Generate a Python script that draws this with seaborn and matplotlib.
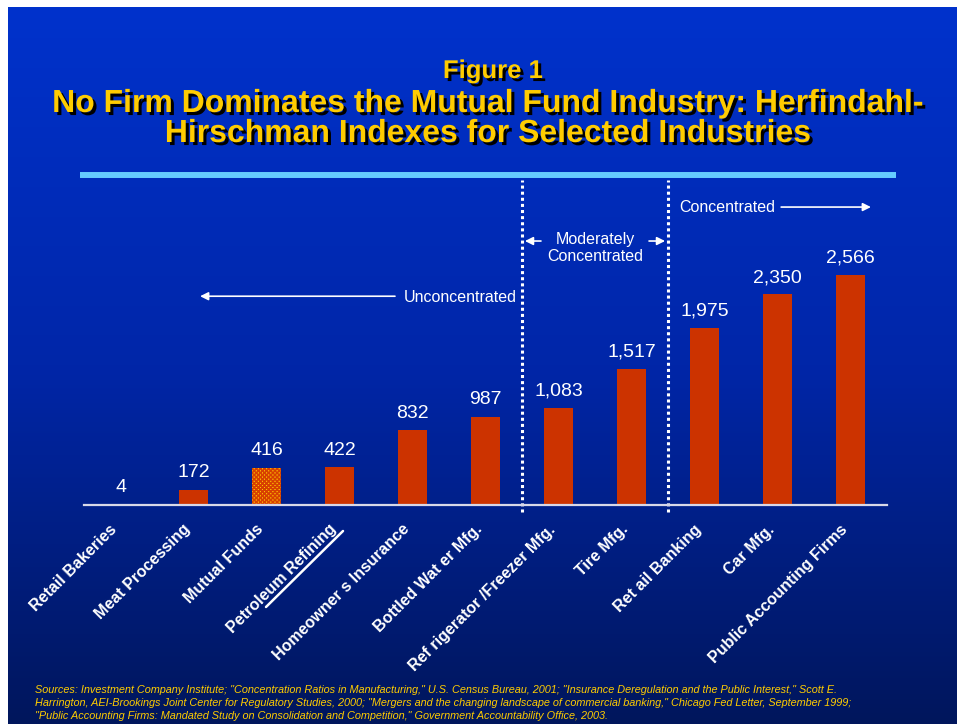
#!/usr/bin/env python3
"""
Figure 1: Herfindahl-Hirschman indexes for selected industries.
"""

import numpy as np
import matplotlib
matplotlib.use("Agg")
import matplotlib.pyplot as plt
import matplotlib.patheffects as pe
import matplotlib.transforms as mtransforms
from matplotlib.colors import LinearSegmentedColormap
from matplotlib.lines import Line2D
import seaborn as sns

industries = ["Retail Bakeries", "Meat Processing", "Mutual Funds", "Petroleum Refining",
              "Homeowners Insurance", "Bottled Water Mfg.", "Refrigerator/Freezer Mfg.",
              "Tire Mfg.", "Retail Banking", "Car Mfg.", "Public Accounting Firms"]
tick_labels = ["Retail Bakeries", "Meat Processing", "Mutual Funds", "Petroleum Refining",
               "Homeowner s Insurance", "Bottled Wat er Mfg.", "Ref rigerator /Freezer Mfg.",
               "Tire Mfg.", "Ret ail Banking", "Car Mfg.", "Public Accounting Firms"]
hhi = [4, 172, 416, 422, 832, 987, 1083, 1517, 1975, 2350, 2566]

BAR = "#CC3300"
YELLOW = "#FFCC00"

sns.set_style("white")
plt.rcParams["font.family"] = ["Liberation Sans", "DejaVu Sans"]
plt.rcParams["hatch.linewidth"] = 1.2

fig = plt.figure(figsize=(9.57, 7.24), dpi=100)
fig.patch.set_facecolor("white")

# gradient slide background
bg = fig.add_axes([8 / 957, 0, 949 / 957, 717 / 724], zorder=-5)
cmap = LinearSegmentedColormap.from_list("slide", ["#0032CC", "#0026A8", "#00165C"])
bg.imshow(np.linspace(0, 1, 256).reshape(-1, 1), aspect="auto", cmap=cmap,
          extent=[0, 1, 0, 1])
bg.set_axis_off()

# titles with drop shadow
shadow = [pe.withSimplePatchShadow(offset=(2.2, -2.2), shadow_rgbFace="black", alpha=1)]
fig.text(493 / 957, 1 - 71 / 724, "Figure 1", color=YELLOW, fontsize=18.5, fontweight="bold",
         ha="center", va="center", path_effects=shadow)
fig.text(488 / 957, 1 - 119 / 724,
         "No Firm Dominates the Mutual Fund Industry: Herfindahl-\n"
         "Hirschman Indexes for Selected Industries",
         color=YELLOW, fontsize=23, fontweight="bold", ha="center", va="center",
         linespacing=1.0, path_effects=shadow)

fig.add_artist(Line2D([80 / 957, 896 / 957], [1 - 175 / 724] * 2,
                      color="#66CCFF", lw=4.3, solid_capstyle="butt"))

# main chart
ax = fig.add_axes([84 / 957, 1 - 505 / 724, 803 / 957, 325 / 724])
ax.patch.set_alpha(0)
colors = {name: BAR for name in industries}
sns.barplot(x=industries, y=hhi, hue=industries, palette=colors, width=0.41,
            saturation=1, legend=False, linewidth=0, ax=ax)

# Mutual Funds bar gets the hatched orange fill
mf = ax.patches[industries.index("Mutual Funds")]
mf.set_facecolor(YELLOW)
mf.set_edgecolor("#D84000")
mf.set_linewidth(0)
mf.set_hatch("xxxxxxxx")

for cont in ax.containers:
    ax.bar_label(cont, labels=[f"{v:,.0f}" for v in cont.datavalues],
                 padding=6, color="white", fontsize=14)

ax.set_xlim(-0.5, len(industries) - 0.5)
ax.set_ylim(0, 3627)
ax.set_yticks([])
for s in ["top", "left", "right"]:
    ax.spines[s].set_visible(False)
ax.spines["bottom"].set_color("#D8D8E8")
ax.spines["bottom"].set_linewidth(1.6)

ax.set_xticks(np.arange(-0.5, len(industries)), minor=True)
ax.set_xticks(np.arange(len(industries)))
ax.set_xticklabels(tick_labels, rotation=45, ha="right", va="top",
                   rotation_mode="anchor", color="white", fontsize=11.5,
                   fontweight="bold")
ax.tick_params(axis="x", which="major", length=0, pad=12)
ax.tick_params(axis="x", which="minor", length=4, width=1.3, color="#D8D8E8",
               direction="out")
shift = mtransforms.ScaledTranslation(-11 / 100, 0, fig.dpi_scale_trans)
for lab in ax.get_xticklabels():
    lab.set_transform(lab.get_transform() + shift)
ax.set_xlabel("")
ax.set_ylabel("")

# concentration zone boundaries
for xb in [5.5, 7.5]:
    ax.axvline(xb, ymin=-0.022, ymax=1, color="white", lw=2.2,
               ls=(0, (1, 1)), clip_on=False)

arrow = dict(arrowstyle="-|>", color="white", lw=1.2, mutation_scale=12,
             shrinkA=0, shrinkB=0)
ax.annotate("", xy=(1.09, 2330), xytext=(3.76, 2330), arrowprops=arrow)
ax.text(3.88, 2321, "Unconcentrated", color="white", fontsize=11.5,
        ha="left", va="center")
ax.text(6.5, 2868, "Moderately\nConcentrated", color="white", fontsize=11.5,
        ha="center", va="center", linespacing=1.1)
ax.annotate("", xy=(5.54, 2946), xytext=(5.76, 2946), arrowprops=arrow)
ax.annotate("", xy=(7.46, 2946), xytext=(7.24, 2946), arrowprops=arrow)
ax.text(7.66, 3315, "Concentrated", color="white", fontsize=11.5,
        ha="left", va="center")
ax.annotate("", xy=(10.28, 3325), xytext=(9.05, 3325), arrowprops=arrow)

# underline beneath the Petroleum Refining label
fig.add_artist(Line2D([343 / 957, 266 / 957], [1 - 531 / 724, 1 - 607 / 724],
                      color="white", lw=1.8))

sources = ("Sources: Investment Company Institute; \"Concentration Ratios in Manufacturing,\" "
           "U.S. Census Bureau, 2001; \"Insurance Deregulation and the Public Interest,\" Scott E.\n"
           "Harrington, AEI-Brookings Joint Center for Regulatory Studies, 2000; \"Mergers and the "
           "changing landscape of commercial banking,\" Chicago Fed Letter, September 1999;\n"
           "\"Public Accounting Firms: Mandated Study on Consolidation and Competition,\" "
           "Government Accountability Office, 2003.")
fig.text(35 / 957, 1 - 685 / 724, sources, color=YELLOW, fontsize=7.8, style="italic",
         ha="left", va="top", linespacing=1.35)

fig.savefig("out.png", dpi=100)
